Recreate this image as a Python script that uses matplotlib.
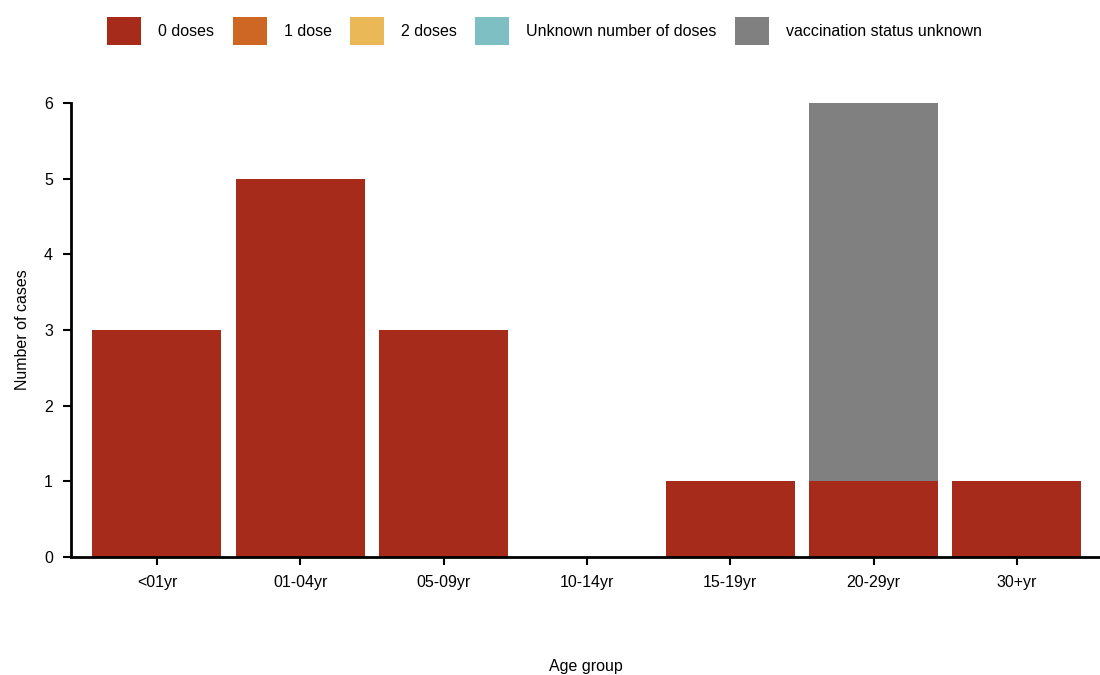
import matplotlib
matplotlib.use("Agg")
import matplotlib.pyplot as plt
import numpy as np

plt.rcParams['font.family'] = ['Liberation Sans', 'DejaVu Sans']

age_groups = ["<01yr", "01-04yr", "05-09yr", "10-14yr", "15-19yr", "20-29yr", "30+yr"]
series_names = ["0 doses", "1 dose", "2 doses", "Unknown number of doses", "vaccination status unknown"]
dose0 = [3, 5, 3, 0, 1, 1, 1]
dose1 = [0, 0, 0, 0, 0, 0, 0]
dose2 = [0, 0, 0, 0, 0, 0, 0]
dose_unknown = [0, 0, 0, 0, 0, 0, 0]
status_unknown = [0, 0, 0, 0, 0, 5, 0]
colors = ["#A62B1A", "#CD6723", "#EAB857", "#7EBFC4", "#808080"]

FS = 11.5

fig = plt.figure(figsize=(11, 6.75), dpi=100)
ax = fig.add_axes([71/1100, 1 - 557/675, 1 - 71/1100, (557 - 103)/675])

x = np.arange(len(age_groups))
bottom = np.zeros(len(age_groups))
handles = []
for name, vals, c in zip(series_names, [dose0, dose1, dose2, dose_unknown, status_unknown], colors):
    b = ax.bar(x, vals, width=0.9, bottom=bottom, color=c, label=name, linewidth=0)
    handles.append(b)
    bottom += np.array(vals)

ax.set_xlim(-0.6, 6.58)
ax.set_ylim(0, 6)
ax.set_yticks(range(0, 7))
ax.set_xticks(x)
ax.set_xticklabels(age_groups)
for s in ["top", "right"]:
    ax.spines[s].set_visible(False)
for s in ["left", "bottom"]:
    ax.spines[s].set_linewidth(2)
ax.tick_params(axis="both", length=6, width=1.5, labelsize=FS, colors="black", pad=7)
ax.set_xlabel("Age group", fontsize=FS, va="center")
ax.xaxis.set_label_coords(0.5, -(666 - 557) / 454)
ax.set_ylabel("Number of cases", fontsize=FS, va="center")
ax.yaxis.set_label_coords(-(71 - 23) / 1029, 0.5)

fig.legend(handles=handles, labels=series_names, loc="center", bbox_to_anchor=(544.5/1100, 1 - 31/675),
           ncol=5, frameon=False, fontsize=FS, handlelength=2.13, handleheight=2.3,
           handletextpad=1.06, columnspacing=1.15)

fig.savefig("out.png", dpi=100)
